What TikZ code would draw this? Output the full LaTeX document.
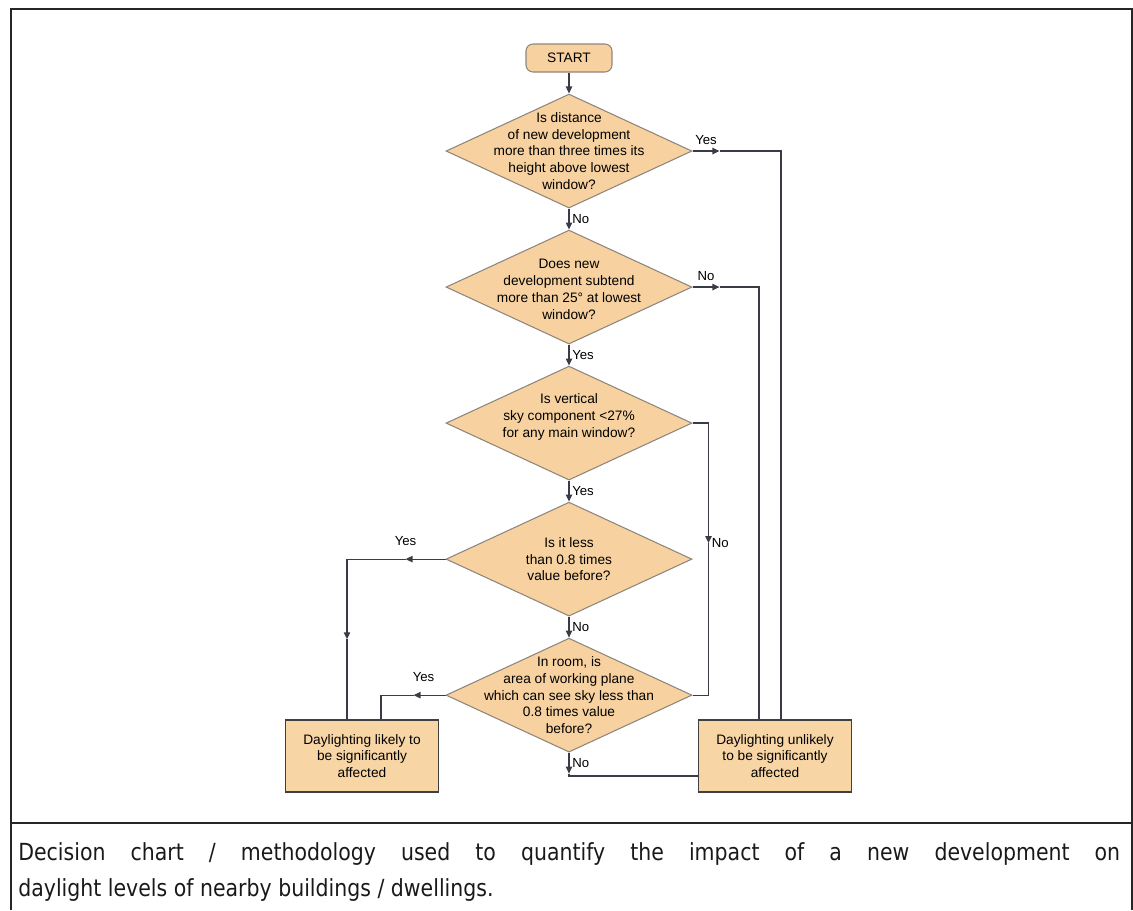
\documentclass[tikz,border=0pt]{standalone}
\usepackage{fontspec}
\setmainfont{Liberation Sans}
\newfontfamily\capfont[FakeStretch=0.87]{DejaVu Sans}
\usepackage{xcolor}
\definecolor{DecFill}{HTML}{F7D2A0}
\definecolor{BoxFill}{HTML}{F8D5A5}
\definecolor{DecEdge}{HTML}{8E857C}
\definecolor{LineGray}{HTML}{3B3B45}
\usetikzlibrary{arrows.meta,calc,positioning,shapes.geometric}

\begin{document}
\begin{tikzpicture}[
  x=0.02cm,y=-0.02cm,
  node distance=0.42cm,
  dec/.style={diamond,draw=DecEdge,fill=DecFill,line width=0.6pt,
    minimum width=4.92cm,minimum height=2.28cm,inner sep=0pt},
  qtext/.style={align=center,font=\fontsize{7.8}{9.6}\selectfont,text=black},
  outbox/.style={draw=black!75,fill=BoxFill,line width=0.8pt,
    minimum width=3.06cm,minimum height=1.44cm,align=center,
    font=\fontsize{7.8}{9.6}\selectfont,text=black},
  arr/.style={-{Triangle[length=4pt,width=3.6pt]},line width=0.7pt,LineGray},
  conn/.style={line width=0.7pt,LineGray},
  lbl/.style={font=\fontsize{7.5}{8}\selectfont,text=black,inner sep=1.5pt},
  outerframe/.style={line width=1.1pt,black!85}
]
  \useasboundingbox (0,0) rectangle (1133,910);
  \draw[outerframe] (11,910) -- (11,9) -- (1132,9) -- (1132,910);
  \draw[outerframe] (11,823) -- (1132,823);

  \node[draw=DecEdge,fill=DecFill,rounded corners=4pt,line width=0.6pt,
    minimum width=1.72cm,minimum height=0.56cm,
    font=\fontsize{7.8}{9.6}\selectfont] (start) at (569,58) {START};
  \node[dec] (dist)  [below=of start] {};
  \node[dec] (angle) [below=of dist]  {};
  \node[dec] (vsc)   [below=of angle] {};
  \node[dec] (ratio) [below=of vsc]   {};
  \node[dec] (area)  [below=of ratio] {};

  \node[qtext] at (dist)  {Is distance\\of new development\\more than three times its\\height above lowest\\window?};
  \node[qtext] at ([yshift=-0.05cm]angle) {Does new\\development subtend\\more than 25° at lowest\\window?};
  \node[qtext] at ([yshift=0.12cm]vsc) {Is vertical\\sky component <27\%\\for any main window?};
  \node[qtext] at (ratio) {Is it less\\than 0.8 times\\value before?};
  \node[qtext] at (area)  {In room, is\\area of working plane\\which can see sky less than\\0.8 times value\\before?};

  \node[outbox] (likely)   at (362,756) {Daylighting likely to\\be significantly\\affected};
  \node[outbox] (unlikely) at (775,756) {Daylighting unlikely\\to be significantly\\affected};

  \draw[arr] (start) -- (dist);
  \draw[arr] (dist)  -- node[lbl,right] {No}  (angle);
  \draw[arr] (angle) -- node[lbl,right] {Yes} (vsc);
  \draw[arr] (vsc)   -- node[lbl,right] {Yes} (ratio);
  \draw[arr] (ratio) -- node[lbl,right] {No}  (area);

  \draw[arr] (dist.east) -- ++(27,0) coordinate (yes1) node[lbl,midway,above=2pt] {Yes};
  \draw[conn] (yes1) -| ($(unlikely.north)+(6,0)$);
  \draw[arr] (angle.east) -- ++(27,0) coordinate (no2) node[lbl,midway,above=2pt] {No};
  \draw[conn] (no2) -| ($(unlikely.north)+(-16,0)$);
  \draw[arr] (vsc.east) -| ++(16,120) coordinate (no3) node[lbl,right] {No};
  \draw[conn] (no3) |- (area.east);

  \draw[arr] (ratio.west) -- ++(-40,0) coordinate (yes4) node[lbl,at end,above=6pt] {Yes};
  \draw[arr] (yes4) -| ($(likely.north)+(-15,-80)$) coordinate (down4);
  \draw[conn] (down4) -- ($(likely.north)+(-15,0)$);
  \draw[arr] (area.west) -- ++(-32,0) coordinate (yes5) node[lbl,at end,above=6pt,xshift=0.2cm] {Yes};
  \draw[conn] (yes5) -| ($(likely.north)+(19,0)$);
  \draw[arr] (area.south) -- ++(0,21) coordinate (no5) node[lbl,midway,right] {No};
  \draw[conn] (no5) |- ($(unlikely.west)+(0,20)$);

  \node[anchor=north west,inner sep=0pt,text width=22.04cm,align=justify,
    font=\capfont\fontsize{13.4}{20.5}\selectfont,text=black!90] (caption) at (18,842)
    {Decision chart / methodology used to quantify the impact of a new development on\linebreak
     daylight levels of nearby buildings / dwellings.};
\end{tikzpicture}
\end{document}
